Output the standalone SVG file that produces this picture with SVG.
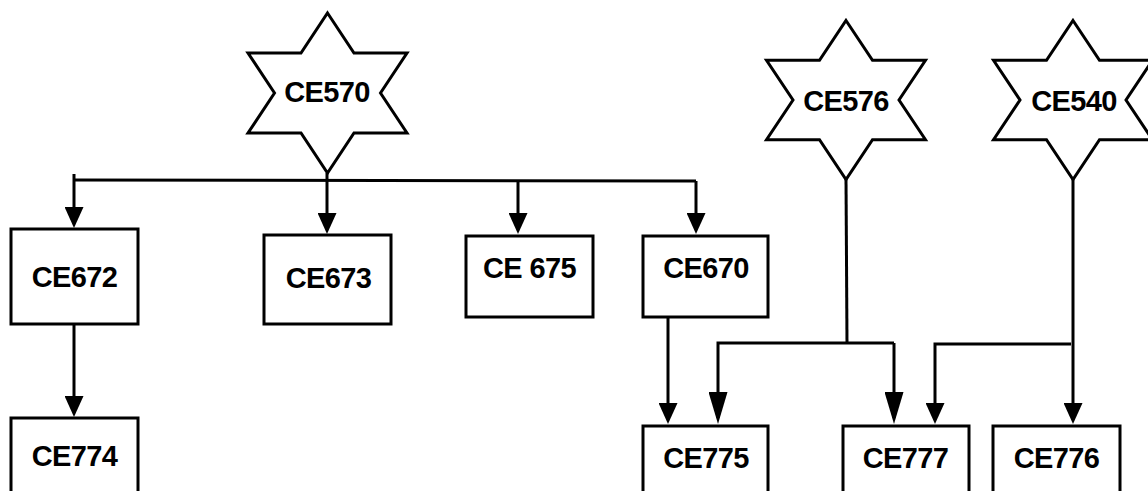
<svg xmlns="http://www.w3.org/2000/svg" xmlns:xlink="http://www.w3.org/1999/xlink" width="1148" height="491" viewBox="0 0 1148 491">
  <style>
    .box { fill: #ffffff; stroke: #000000; stroke-width: 3; }
    .star { fill: #ffffff; stroke: #000000; stroke-width: 3; stroke-linejoin: miter; }
    .label { font-family: "Liberation Sans", Arial, sans-serif; font-weight: bold; font-size: 29px; letter-spacing: -0.6px; fill: #000000; text-anchor: middle; }
    .wire { fill: none; stroke: #000000; stroke-width: 3; }
    .arrow { marker-end: url(#head); }
    .arrow-long { marker-end: url(#headLong); }
  </style>
  <defs>
    <!-- six-pointed star, origin at the top point, 160 tall -->
    <path id="hexagram" d="M0,0 L26.5,40 L79.5,40 L53,80 L79.5,120 L26.5,120 L0,160 L-26.5,120 L-79.5,120 L-53,80 L-79.5,40 L-26.5,40 Z"/>
    <!-- lines stop 6px short of the tip; the head covers the rest -->
    <marker id="head" markerUnits="userSpaceOnUse" viewBox="0 0 21 19" markerWidth="21" markerHeight="19" refX="15" refY="9.5" orient="auto">
      <path d="M0,0 L21,9.5 L0,19 Z" fill="#000000"/>
    </marker>
    <marker id="headLong" markerUnits="userSpaceOnUse" viewBox="0 0 32 19" markerWidth="32" markerHeight="19" refX="26" refY="9.5" orient="auto">
      <path d="M0,0 L32,9.5 L0,19 Z" fill="#000000"/>
    </marker>
  </defs>

  <g id="connectors">
    <!-- CE570 fan-out bar -->
    <path class="wire" d="M74,180 L696,181"/>
    <path class="wire arrow" d="M74,174 V222"/>
    <path class="wire arrow" d="M327,173 V228"/>
    <path class="wire arrow" d="M518,180 V228"/>
    <path class="wire arrow" d="M696,181 V228"/>
    <!-- CE672 to CE774 -->
    <path class="wire arrow" d="M74,324 V411"/>
    <!-- CE670 to CE775 -->
    <path class="wire arrow" d="M668,317 V418"/>
    <!-- CE576 split -->
    <path class="wire" d="M846,179 L847,343"/>
    <path class="wire arrow-long" d="M894,343 H718 V418"/>
    <path class="wire arrow-long" d="M894,343 V418"/>
    <!-- CE540 -->
    <path class="wire arrow" d="M1073,179 V418"/>
    <path class="wire arrow" d="M1071,344 H935 V418"/>
  </g>

  <g id="CE570">
    <use xlink:href="#hexagram" class="star" transform="translate(327.5,13)"/>
    <text class="label" x="327" y="102">CE570</text>
  </g>
  <g id="CE576">
    <use xlink:href="#hexagram" class="star" transform="translate(846,20.5) scale(1,0.994)"/>
    <text class="label" x="846" y="110.5">CE576</text>
  </g>
  <g id="CE540">
    <use xlink:href="#hexagram" class="star" transform="translate(1073,20.5) scale(1,0.994)"/>
    <text class="label" x="1074" y="110.5">CE540</text>
  </g>

  <g id="CE672">
    <rect class="box" x="11" y="229" width="127" height="95"/>
    <text class="label" x="74.5" y="286.5">CE672</text>
  </g>
  <g id="CE673">
    <rect class="box" x="264" y="235" width="127" height="89"/>
    <text class="label" x="328.5" y="288">CE673</text>
  </g>
  <g id="CE675">
    <rect class="box" x="466" y="236" width="127" height="81"/>
    <text class="label" x="529.5" y="277.5">CE 675</text>
  </g>
  <g id="CE670">
    <rect class="box" x="643" y="236" width="125" height="81"/>
    <text class="label" x="706" y="277.5">CE670</text>
  </g>
  <g id="CE774">
    <rect class="box" x="11" y="418" width="127" height="90"/>
    <text class="label" x="74.5" y="465.5">CE774</text>
  </g>
  <g id="CE775">
    <rect class="box" x="643" y="426" width="125" height="90"/>
    <text class="label" x="706" y="467.5">CE775</text>
  </g>
  <g id="CE777">
    <rect class="box" x="843" y="426" width="126" height="90"/>
    <text class="label" x="905.5" y="467.5">CE777</text>
  </g>
  <g id="CE776">
    <rect class="box" x="993" y="426" width="127" height="90"/>
    <text class="label" x="1056.5" y="467.5">CE776</text>
  </g>
</svg>
